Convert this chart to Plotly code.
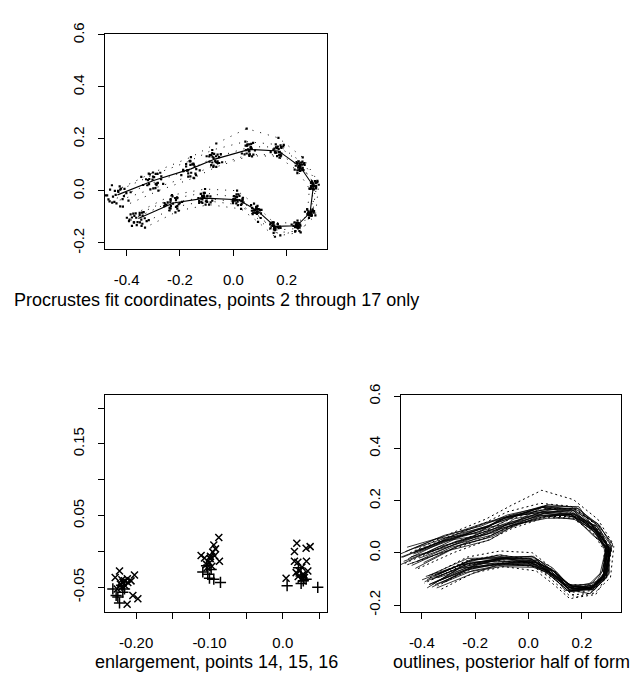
import plotly.graph_objects as go

# ---------------- data ----------------
# consensus (mean) outline, landmarks 2 .. 17
LANDMARK_IDS = list(range(2, 18))
MEAN_X = [-0.434, -0.296, -0.159, -0.069, 0.060, 0.169, 0.250, 0.300,
          0.2875, 0.2375, 0.156, 0.0875, 0.019, -0.106, -0.225, -0.356]
MEAN_Y = [-0.015, 0.041, 0.085, 0.1225, 0.160, 0.154, 0.094, 0.019,
          -0.084, -0.134, -0.136, -0.074, -0.034, -0.0275, -0.046, -0.106]

# per-specimen overall displacement (thousandths), solid-outline specimens
SOLID_SHIFT_X = [-6, 5, -11, 2, -2, 8, -14, 1, 6, -5, 11, -1,
                 3, -8, 13, 0, 6, -15, 2, -5, -2, -9]
SOLID_SHIFT_Y = [8, -6, 2, 11, -9, 5, -8, 5, -3, 11, -8, -2,
                 8, -5, 2, -11, 9, 1, -14, -1, 5, 6]

# per-landmark scatter of each solid specimen (thousandths)
SOLID_DX = [
    [-22, -15, -12, -4, -8, 3, 6, 2, 10, 5, -3, 4, -6, -10, -4, -18],
    [14, 8, 12, 3, -5, -2, -10, -6, -12, -3, 4, -2, 8, 3, 10, 6],
    [-35, -20, -18, -10, 2, -8, 8, 10, 5, 12, -6, 3, -10, -4, -15, -22],
    [6, 10, -4, 8, 12, 6, 14, 4, 8, -2, 8, -8, 2, -6, 5, 12],
    [-10, -2, -8, -12, 4, -6, 2, 12, -2, 6, -8, 2, -4, -12, -8, -4],
    [25, 18, 6, 14, -2, 10, -4, -8, 2, -10, 6, 10, 4, 12, 16, 8],
    [-40, -28, -22, -6, -14, 2, -6, 8, 12, 2, 10, -4, 6, -8, -20, -10],
    [2, -8, 4, -10, 6, -6, 8, -2, 14, 10, -2, 12, -4, 8, -2, 4],
    [18, 4, 14, 10, -8, 4, -6, -4, -8, 6, 12, -6, 10, 2, 14, 18],
    [-16, -12, 2, -14, -2, -10, -8, 6, -6, 10, -4, 8, -2, -6, 2, -14],
    [30, 22, 8, 16, 4, -6, 2, -12, -4, -14, 0, -10, 8, 10, 4, 20],
    [-6, 6, -12, 4, -4, 12, -2, -8, 6, 2, 12, 4, -8, -2, -10, -2],
    [10, -4, 8, -6, 2, -12, -2, -12, -10, 4, -6, -2, 12, -4, 12, 2],
    [-26, -18, -6, -2, -10, -4, 10, -4, 2, 8, -10, 6, -12, -14, -6, -8],
    [36, 12, 20, 2, 8, -2, 4, 2, -14, -6, 8, -8, 4, 14, 20, 26],
    [-4, 8, -2, 12, 10, 8, -10, 10, -4, 14, 2, -12, -2, 2, -14, 6],
    [20, 16, -8, -2, -6, 14, -12, -2, 8, -12, -12, 6, -6, -10, 8, 14],
    [-46, -34, -14, -16, 2, -14, 4, 6, 4, -4, 14, -2, 2, 6, -18, -28],
    [8, 2, 10, -8, -12, 2, 6, -10, -6, -8, -4, 14, 10, -12, 6, 10],
    [-12, -14, 6, 6, 14, -8, 12, 14, 10, 2, 4, -6, -14, 8, -4, -12],
    [4, -22, -16, 12, -6, 4, -14, -6, -2, -6, -14, 10, 6, -8, 12, -6],
    [-30, 4, 18, -4, 8, 10, 2, 4, -10, 12, 6, -12, -8, 4, -12, -20],
]
SOLID_DY = [
    [12, 18, 10, 15, 6, 9, -2, 4, -8, 2, -6, 5, -3, 8, 2, -4],
    [-10, -4, -12, -8, -2, -9, 4, -6, 6, 10, 3, -4, 2, -9, -6, 2],
    [-4, 2, -6, 8, 12, 3, 10, -2, 4, -5, -10, -2, -8, -3, -10, -6],
    [22, 14, 18, 6, 14, 10, 2, 8, -4, -10, -2, -12, 4, -4, 8, 12],
    [-18, -22, -8, -14, -10, 2, -8, 6, 10, 2, 12, -2, 8, -6, -12, -16],
    [2, 10, 4, 14, 2, 12, 10, -4, 8, -6, -12, -4, -10, 2, -6, 6],
    [-26, -10, -16, -2, -8, 4, -4, 10, -2, 8, -4, 6, -6, -10, -4, -20],
    [6, -2, 12, 4, 16, 6, 14, -2, 2, -12, -14, -4, -12, 4, -8, 8],
    [-2, -10, 2, -12, -4, -14, -2, -10, -6, 8, 2, 12, 2, 10, -2, 4],
    [26, 12, 20, 4, 8, -2, 6, -8, 2, -10, 4, 6, 10, -2, 14, 8],
    [-14, -6, -16, -4, -12, 4, -6, 8, -2, 12, 6, -6, -2, -8, -14, -2],
    [2, -12, -4, -10, 2, -8, -12, 2, -10, -4, 10, -8, 14, 6, 4, -12],
    [16, 4, 8, 12, -2, 6, -8, 4, -12, 2, -10, -14, -4, 12, 10, 14],
    [-12, -14, -2, -8, -14, -2, -10, -6, 4, 6, 12, 10, -8, -6, -14, -10],
    [8, 2, -8, 6, -6, 10, 4, 14, -4, -2, -8, 2, 6, -12, 2, -8],
    [-22, -8, -18, -4, -16, -10, -14, 2, 10, 12, 2, 10, -10, -14, -18, -4],
    [14, 20, 6, 2, 10, 14, -6, -10, -8, -14, 4, -10, 12, 2, 12, 16],
    [4, 12, -10, 10, -4, -6, 12, -8, 12, 4, -6, 8, -4, 4, -2, 2],
    [-30, -16, -22, -16, -2, -12, 2, 4, -6, -8, 8, 2, -2, -4, -22, -14],
    [-6, 6, -14, -6, 4, -4, 8, 12, 6, -2, -12, -8, 4, -12, -10, -14],
    [10, -4, 4, -14, 10, -10, -2, -12, -14, 8, 8, -2, -6, -10, 6, -2],
    [-8, 8, 14, 10, -10, 2, -10, 12, -2, 14, -2, 14, 8, 0, -4, 10],
]

# outlying specimens drawn with dotted outlines (thousandths from consensus)
DOTTED_DX = [
    [-10, -5, 0, 5, -10, 0, 10, 15, 10, 5, 0, -5, -5, -5, -10, -15],
    [20, 15, 10, 5, 0, -5, -10, -15, -10, -5, 0, 5, 10, 15, 20, 25],
    [-20, -15, -10, -5, 0, 5, 10, 10, 5, 0, -5, -10, -5, 0, -5, -10],
    [10, 5, -5, -10, -15, -10, -5, 0, 5, 15, 20, 15, 10, 5, 10, 15],
    [-30, -20, -10, -5, 5, 10, 15, 20, 20, 10, -5, -15, -20, -25, -30, -35],
]
DOTTED_DY = [
    [15, 30, 45, 60, 80, 50, 35, 20, 5, -10, -15, -10, 10, 20, 15, 10],
    [-45, -40, -35, -30, -25, -20, -15, -10, -5, -20, -40, -45, -35, -25, -30, -35],
    [-30, -35, -30, -25, -20, -15, -5, 0, 5, 10, 15, 25, 35, 35, 30, 20],
    [20, 25, 30, 35, 30, 25, 20, 10, -5, -25, -35, -30, -20, -10, -15, -20],
    [-25, -15, -5, 5, 10, 15, 10, 5, -10, -20, -25, -15, -5, 0, -5, -10],
]

# enlargement of landmarks 14, 15, 16: two groups
ENL_X_GROUP_X = [-0.2227, -0.2023, -0.2286, -0.2195, -0.2159, -0.2114, -0.2214, -0.2150,
                 -0.2259, -0.2045, -0.1977, -0.2123, -0.2180, -0.2120, -0.2070, -0.2200,
                 -0.0873, -0.0941, -0.0918, -0.0955, -0.1114, -0.1068, -0.0986, -0.0864,
                 -0.1000, -0.0968, -0.1032, -0.0990, -0.0930, -0.1040,
                 0.0191, 0.0159, 0.0318, 0.0373, 0.0159, 0.0205, 0.0323, 0.0227,
                 0.0182, 0.0341, 0.0045, 0.0273, 0.0250, 0.0295, 0.0260, 0.0290, 0.0210]
ENL_X_GROUP_Y = [-0.0273, -0.0327, -0.0364, -0.0395, -0.0409, -0.0432, -0.0455, -0.0477,
                 -0.0523, -0.0614, -0.0659, -0.0736, -0.0430, -0.0380, -0.0410, -0.0500,
                 0.0195, 0.0091, 0.0036, -0.0009, -0.0055, -0.0091, -0.0068, -0.0136,
                 -0.0159, -0.0205, -0.0227, -0.0100, -0.0060, -0.0180,
                 0.0114, 0.0000, 0.0045, 0.0068, -0.0136, -0.0150, -0.0136, -0.0273,
                 -0.0295, -0.0273, -0.0373, -0.0318, -0.0386, -0.0364, -0.0220, -0.0330, -0.0350]
ENL_PLUS_GROUP_X = [-0.2318, -0.2273, -0.2227, -0.2182, -0.2250, -0.2159, -0.2200,
                    -0.1091, -0.1023, -0.1000, -0.0941, -0.0850, -0.0977, -0.1040,
                    0.0059, 0.0250, 0.0318, 0.0477, 0.0250, 0.0214, 0.0280]
ENL_PLUS_GROUP_Y = [-0.0523, -0.0614, -0.0718, -0.0568, -0.0636, -0.0523, -0.0470,
                    -0.0286, -0.0318, -0.0373, -0.0386, -0.0432, -0.0250, -0.0200,
                    -0.0477, -0.0445, -0.0386, -0.0500, -0.0341, -0.0227, -0.0410]

OUTLINE_TICKS_X = [-0.4, -0.2, 0.0, 0.2]
OUTLINE_TICKTEXT_X = ["-0.4", "-0.2", "0.0", "0.2"]
OUTLINE_TICKS_Y = [-0.2, 0.0, 0.2, 0.4, 0.6]
OUTLINE_TICKTEXT_Y = ["-0.2", "0.0", "0.2", "0.4", "0.6"]
ENL_TICKS_X = [-0.20, -0.15, -0.10, -0.05, 0.0, 0.05]
ENL_TICKTEXT_X = ["-0.20", "", "-0.10", "", "0.0", ""]
ENL_TICKS_Y = [-0.05, 0.0, 0.05, 0.10, 0.15, 0.20]
ENL_TICKTEXT_Y = ["-0.05", "", "0.05", "", "0.15", ""]

CAPTIONS = ["Procrustes fit coordinates, points 2 through 17 only",
            "enlargement, points 14, 15, 16",
            "outlines, posterior half of form"]

# ---------------- figure ----------------
W, H = 633, 683
FONT = "Liberation Sans, Arial, Helvetica, sans-serif"


def specimen(dx, dy, sx=0, sy=0):
    xs = [m + (d + sx) / 1000.0 for m, d in zip(MEAN_X, dx)]
    ys = [m + (d + sy) / 1000.0 for m, d in zip(MEAN_Y, dy)]
    return xs, ys


solid = [specimen(a, b, sx, sy) for a, b, sx, sy in
         zip(SOLID_DX, SOLID_DY, SOLID_SHIFT_X, SOLID_SHIFT_Y)]
dotted = [specimen(a, b) for a, b in zip(DOTTED_DX, DOTTED_DY)]

fig = go.Figure()

# --- top panel: landmark dots + consensus line
for xs, ys in dotted:
    fig.add_trace(go.Scatter(x=xs, y=ys, mode="lines", xaxis="x", yaxis="y",
                             line=dict(color="black", width=1, dash="1px,7px"),
                             showlegend=False, hoverinfo="skip"))
all_x = [v for xs, _ in solid + dotted for v in xs]
all_y = [v for _, ys in solid + dotted for v in ys]
fig.add_trace(go.Scatter(x=all_x, y=all_y, mode="markers", xaxis="x", yaxis="y",
                         marker=dict(symbol="square", size=2.2, color="black",
                                     line=dict(width=0)),
                         showlegend=False))
fig.add_trace(go.Scatter(x=MEAN_X, y=MEAN_Y, mode="lines", xaxis="x", yaxis="y",
                         line=dict(color="black", width=1.1), showlegend=False))

# --- bottom-left: enlargement
fig.add_trace(go.Scatter(x=ENL_X_GROUP_X, y=ENL_X_GROUP_Y, mode="markers",
                         xaxis="x2", yaxis="y2",
                         marker=dict(symbol="x-thin-open", size=7, color="black",
                                     line=dict(color="black", width=1.5)),
                         showlegend=False))
fig.add_trace(go.Scatter(x=ENL_PLUS_GROUP_X, y=ENL_PLUS_GROUP_Y, mode="markers",
                         xaxis="x2", yaxis="y2",
                         marker=dict(symbol="cross-thin-open", size=8, color="black",
                                     line=dict(color="black", width=1.5)),
                         showlegend=False))

# --- bottom-right: outlines
for xs, ys in dotted:
    fig.add_trace(go.Scatter(x=xs, y=ys, mode="lines", xaxis="x3", yaxis="y3",
                             line=dict(color="black", width=1, dash="2px,3px"),
                             showlegend=False, hoverinfo="skip"))
for xs, ys in solid:
    fig.add_trace(go.Scatter(x=xs, y=ys, mode="lines", xaxis="x3", yaxis="y3",
                             line=dict(color="black", width=0.8),
                             showlegend=False, hoverinfo="skip"))


def px_x(a, b):
    return [a / W, b / W]


def px_y(top, bottom):
    return [(H - bottom) / H, (H - top) / H]


def axis(dom, rng, tv, tt, anchor, is_y=False):
    d = dict(domain=dom, range=rng, tickvals=tv, ticktext=tt, anchor=anchor,
             showline=True, linecolor="black", linewidth=1, mirror=True,
             ticks="outside", ticklen=6, tickwidth=1, tickcolor="black",
             showgrid=False, zeroline=False, fixedrange=True,
             tickfont=dict(family=FONT, size=15, color="black"),
             ticklabelstandoff=11)
    if is_y:
        d["tickangle"] = -90
        d["ticklabelstandoff"] = 8
    return d


TOP_BOX = (105, 327, 23, 243)
BL_BOX = (105, 327, 393, 615)
BR_BOX = (401, 621, 393, 615)

fig.update_layout(
    width=W, height=H, autosize=False,
    margin=dict(l=0, r=0, t=0, b=0),
    paper_bgcolor="white", plot_bgcolor="white",
    font=dict(family=FONT, color="black"),
    xaxis=axis(px_x(TOP_BOX[0], TOP_BOX[1]), [-0.481, 0.351],
               OUTLINE_TICKS_X, OUTLINE_TICKTEXT_X, "y"),
    yaxis=axis(px_y(TOP_BOX[2], TOP_BOX[3]), [-0.223, 0.602],
               OUTLINE_TICKS_Y, OUTLINE_TICKTEXT_Y, "x", True),
    xaxis2=axis(px_x(BL_BOX[0], BL_BOX[1]), [-0.2425, 0.0603],
                ENL_TICKS_X, ENL_TICKTEXT_X, "y2"),
    yaxis2=axis(px_y(BL_BOX[2], BL_BOX[3]), [-0.084, 0.218],
                ENL_TICKS_Y, ENL_TICKTEXT_Y, "x2", True),
    xaxis3=axis(px_x(BR_BOX[0], BR_BOX[1]), [-0.478, 0.347],
                OUTLINE_TICKS_X, OUTLINE_TICKTEXT_X, "y3"),
    yaxis3=axis(px_y(BR_BOX[2], BR_BOX[3]), [-0.225, 0.604],
                OUTLINE_TICKS_Y, OUTLINE_TICKTEXT_Y, "x3", True),
)

for box, text in zip([TOP_BOX, BL_BOX, BR_BOX], CAPTIONS):
    cx = (box[0] + box[1]) / 2 / W
    cy = (H - (box[3] + 52)) / H
    fig.add_annotation(x=cx, y=cy, xref="paper", yref="paper", text=text,
                       showarrow=False, xanchor="center", yanchor="middle",
                       font=dict(family=FONT, size=18, color="black"))

fig.write_html("out.html", config={"displayModeBar": False},
               post_script="document.body.style.margin='0';")
